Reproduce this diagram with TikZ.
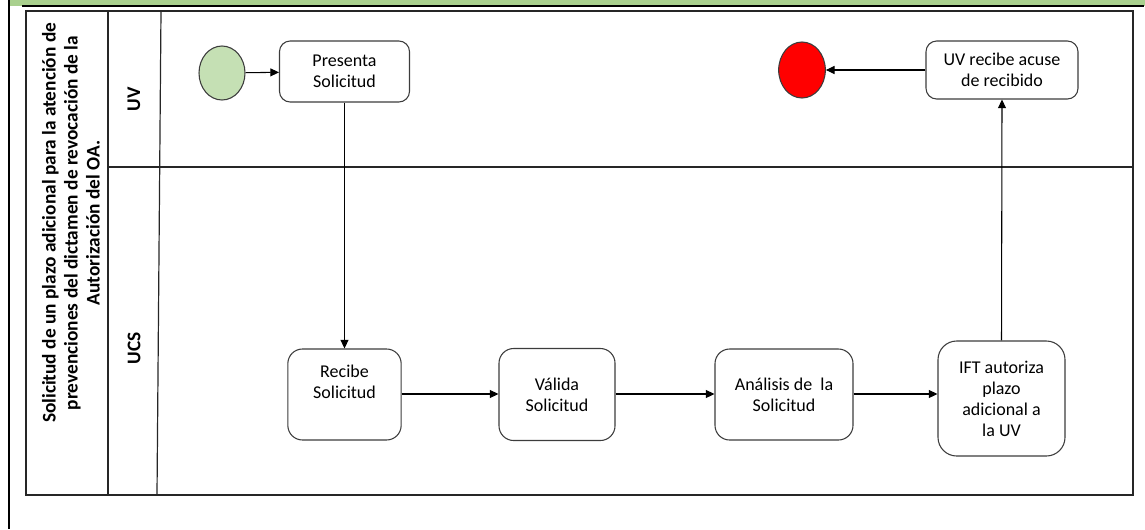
\documentclass[tikz,border=0pt]{standalone}
\usepackage{fontspec}
\setmainfont{Carlito}
\usetikzlibrary{arrows.meta,shapes.geometric}
\definecolor{band}{RGB}{169,208,142}
\definecolor{startg}{RGB}{197,224,180}
\definecolor{endr}{RGB}{255,0,0}
\definecolor{edge}{RGB}{60,60,60}
\begin{document}
\begin{tikzpicture}[x=0.75pt,y=-0.75pt,
  task/.style={draw=edge, line width=0.8pt, align=center, inner sep=0pt,
    font=\fontsize{13.5}{15.75}\selectfont},
  smalltask/.style={task, rounded corners=8pt},
  bigtask/.style={task, rounded corners=11pt},
  event/.style={ellipse, draw=edge, line width=0.8pt, inner sep=0pt},
  flow/.style={draw=black, line width=0.8pt, -{Triangle[length=6.5pt,width=6pt]}},
  pool/.style={draw=black!85, line width=0.9pt},
  lanelbl/.style={rotate=90, font=\fontsize{14.5}{17}\bfseries\selectfont},
  title/.style={rotate=90, align=center, font=\fontsize{14.5}{16.5}\bfseries\selectfont}]
\useasboundingbox (0,0) rectangle (1145,529);
% top band and frame
\fill[band] (9,0) rectangle (1145,5.5);
\draw[black, line width=1.5pt] (22,5.5) -- (1143,5.5) -- (1143,7);
\draw[black, line width=1.5pt] (9,0) -- (9,529);
% pool
\draw[pool] (26,11) rectangle (1133,495);
\draw[pool] (108,11) -- (108,495);
\draw[pool] (161,11) -- (157,495);
\draw[pool] (108,167) -- (1133,167);
\node[title] (ttl) at (71,223) {Solicitud de un plazo adicional para la atención de\\prevenciones del dictamen de revocación de la\\Autorización del OA.};
\node[lanelbl] (luv) at (134,99) {UV};
\node[lanelbl] (lucs) at (134,348) {UCS};
% events
\node[event, fill=startg, minimum width=34.5pt, minimum height=40.5pt] (start) at (222,73) {};
\node[event, fill=endr, minimum width=35pt, minimum height=42pt] (end) at (802,70) {};
% tasks
\node[smalltask, minimum width=97.5pt, minimum height=45.75pt] (pres) at (344.5,71.5) {Presenta\\Solicitud};
\node[smalltask, minimum width=114pt, minimum height=43.5pt] (uvr) at (1002,70) {UV recibe acuse\\de recibido};
\node[bigtask, minimum width=85pt, minimum height=68.25pt] (rec) at (344.5,394.5) {Recibe\\Solicitud\\[4pt]};
\node[bigtask, minimum width=87pt, minimum height=69pt] (val) at (557,394.5) {Válida\\Solicitud};
\node[bigtask, minimum width=103.5pt, minimum height=68.25pt] (ana) at (784,394.5) {Análisis de\ \ la\\Solicitud};
\node[bigtask, rounded corners=14pt, minimum width=95.25pt, minimum height=86.25pt] (ift) at (1001.5,398.5) {IFT autoriza\\plazo\\adicional a\\la UV};
% flows
\draw[flow] (start) -- (pres);
\draw[flow] (pres.south) -- (rec.north);
\draw[flow] (rec.east |- 0,394) -- (val.west |- 0,394);
\draw[flow] (val.east |- 0,394) -- (ana.west |- 0,394);
\draw[flow] (ana.east |- 0,394) -- (ift.west |- 0,394);
\draw[flow] (ift.north) -- (uvr.south);
\draw[flow] (uvr.west) -- (end.east);
\end{tikzpicture}
\end{document}
